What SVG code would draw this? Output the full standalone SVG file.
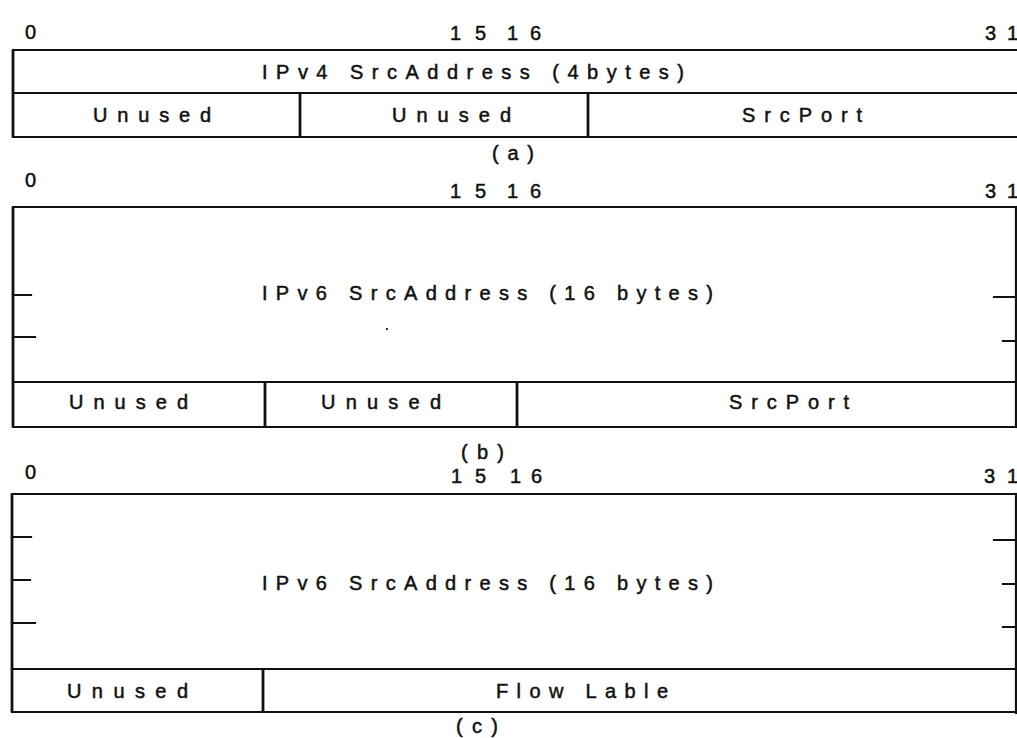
<svg xmlns="http://www.w3.org/2000/svg" width="1017" height="738" viewBox="0 0 1017 738">
<style>
.bg{fill:#fff}
.ln{stroke:#111;stroke-width:2.2;fill:none;stroke-linecap:square}
.edge{stroke:#111;stroke-width:2.8;fill:none}
.t{font-family:"Liberation Sans",Arial,sans-serif;font-size:20px;fill:#111;stroke:#111;stroke-width:0.5}
</style>
<rect class="bg" x="0" y="0" width="1017" height="738"/>

<g id="fig-a">
  <g id="a-scale">
    <text class="t" x="25" y="39">0</text>
    <text class="t" x="450" y="40" textLength="36" lengthAdjust="spacing">15</text>
    <text class="t" x="507" y="40" textLength="34" lengthAdjust="spacing">16</text>
    <text class="t" x="985" y="40" textLength="33" lengthAdjust="spacing">31</text>
  </g>
  <g id="a-addr">
    <path class="ln" d="M13,50 H1017 M13,93 H1017"/>
    <path class="edge" d="M13,50 V137"/>
    <text class="t" x="262" y="79" textLength="422" lengthAdjust="spacing">IPv4 SrcAddress (4bytes)</text>
  </g>
  <g id="a-unused1">
    <path class="ln" d="M13,137 H300"/>
    <text class="t" x="93" y="122" textLength="118" lengthAdjust="spacing">Unused</text>
  </g>
  <g id="a-unused2">
    <path class="edge" d="M300,93 V137"/>
    <path class="ln" d="M300,137 H588"/>
    <text class="t" x="392" y="122" textLength="119" lengthAdjust="spacing">Unused</text>
  </g>
  <g id="a-srcport">
    <path class="edge" d="M588,93 V137"/>
    <path class="ln" d="M588,137 H1017"/>
    <text class="t" x="742" y="122" textLength="120" lengthAdjust="spacing">SrcPort</text>
  </g>
  <text class="t" x="492" y="160" textLength="42" lengthAdjust="spacing">(a)</text>
</g>

<g id="fig-b">
  <g id="b-scale">
    <text class="t" x="25" y="187">0</text>
    <text class="t" x="450" y="198" textLength="36" lengthAdjust="spacing">15</text>
    <text class="t" x="507" y="198" textLength="34" lengthAdjust="spacing">16</text>
    <text class="t" x="985" y="198" textLength="33" lengthAdjust="spacing">31</text>
  </g>
  <g id="b-addr">
    <path class="ln" d="M13,207 H1016 M13,382 H1016"/>
    <path class="edge" d="M13,207 V427"/>
    <path class="ln" d="M1016,207 V427"/>
    <path class="ln" d="M13,295 H31 M13,337 H35 M994,297 H1016 M1003,341 H1016"/>
    <text class="t" x="262" y="300" textLength="451" lengthAdjust="spacing">IPv6 SrcAddress (16 bytes)</text>
    <rect x="386" y="328" width="2" height="2" fill="#333"/>
  </g>
  <g id="b-unused1">
    <path class="ln" d="M13,427 H265"/>
    <text class="t" x="69" y="409" textLength="119" lengthAdjust="spacing">Unused</text>
  </g>
  <g id="b-unused2">
    <path class="edge" d="M265,382 V427"/>
    <path class="ln" d="M265,427 H517"/>
    <text class="t" x="321" y="409" textLength="120" lengthAdjust="spacing">Unused</text>
  </g>
  <g id="b-srcport">
    <path class="edge" d="M517,382 V427"/>
    <path class="ln" d="M517,427 H1016"/>
    <text class="t" x="729" y="409" textLength="120" lengthAdjust="spacing">SrcPort</text>
  </g>
  <text class="t" x="461" y="459" textLength="43" lengthAdjust="spacing">(b)</text>
</g>

<g id="fig-c">
  <g id="c-scale">
    <text class="t" x="25" y="479">0</text>
    <text class="t" x="451" y="483" textLength="35" lengthAdjust="spacing">15</text>
    <text class="t" x="510" y="483" textLength="32" lengthAdjust="spacing">16</text>
    <text class="t" x="984" y="483" textLength="34" lengthAdjust="spacing">31</text>
  </g>
  <g id="c-addr">
    <path class="ln" d="M12,494 H1016 M12,669 H1016"/>
    <path class="edge" d="M12,494 V712"/>
    <path class="ln" d="M1016,494 V713"/>
    <path class="ln" d="M12,537 H31 M12,580 H30 M12,623 H35 M994,540 H1016 M1003,584 H1016 M1003,627 H1016"/>
    <text class="t" x="262" y="590" textLength="451" lengthAdjust="spacing">IPv6 SrcAddress (16 bytes)</text>
  </g>
  <g id="c-unused">
    <path class="ln" d="M12,712 H263"/>
    <text class="t" x="67" y="698" textLength="121" lengthAdjust="spacing">Unused</text>
  </g>
  <g id="c-flowlabel">
    <path class="edge" d="M263,669 V712"/>
    <path class="ln" d="M263,712 H1016"/>
    <text class="t" x="496" y="698" textLength="172" lengthAdjust="spacing">Flow Lable</text>
  </g>
  <text class="t" x="456" y="733" textLength="42" lengthAdjust="spacing">(c)</text>
</g>

<g id="connectors"></g>
</svg>
